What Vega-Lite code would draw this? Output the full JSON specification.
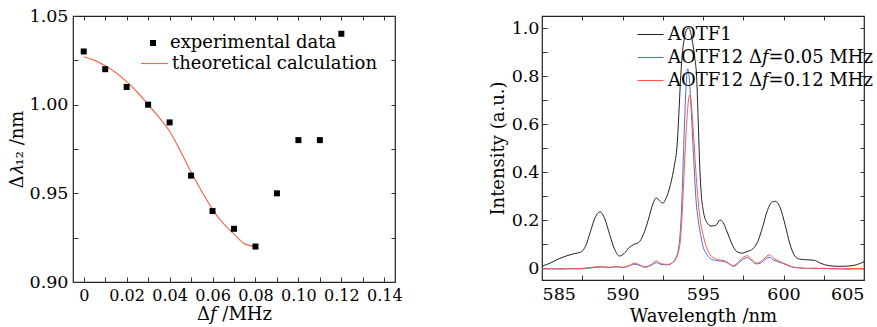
{
  "$schema": "https://vega.github.io/schema/vega-lite/v6.json",
  "autosize": {"type": "none"},
  "padding": {"left": 73, "top": 16, "right": 804, "bottom": 311},
  "bounds": "flush",
  "spacing": 147,
  "datasets": {
    "expt": [
      {"df": 0, "dl": 1.03}, {"df": 0.01, "dl": 1.02}, {"df": 0.02, "dl": 1.01}, {"df": 0.03, "dl": 1.0},
      {"df": 0.04, "dl": 0.99}, {"df": 0.05, "dl": 0.96}, {"df": 0.06, "dl": 0.94}, {"df": 0.07, "dl": 0.93},
      {"df": 0.08, "dl": 0.92}, {"df": 0.09, "dl": 0.95}, {"df": 0.1, "dl": 0.98}, {"df": 0.11, "dl": 0.98},
      {"df": 0.12, "dl": 1.04}
    ],
    "theory": [
      {"df": 0, "dl": 1.027}, {"df": 0.005, "dl": 1.025}, {"df": 0.01, "dl": 1.022}, {"df": 0.015, "dl": 1.018},
      {"df": 0.02, "dl": 1.013}, {"df": 0.025, "dl": 1.007}, {"df": 0.03, "dl": 1.0}, {"df": 0.035, "dl": 0.993},
      {"df": 0.04, "dl": 0.985}, {"df": 0.045, "dl": 0.974}, {"df": 0.05, "dl": 0.962}, {"df": 0.055, "dl": 0.951},
      {"df": 0.06, "dl": 0.941}, {"df": 0.065, "dl": 0.933}, {"df": 0.07, "dl": 0.927}, {"df": 0.075, "dl": 0.9215},
      {"df": 0.08, "dl": 0.92}
    ],
    "spectra": [
      {"s": "AOTF1", "wl": 585.0, "I": 0.008}, {"s": "AOTF1", "wl": 585.5, "I": 0.02}, {"s": "AOTF1", "wl": 586.0, "I": 0.037},
      {"s": "AOTF1", "wl": 586.5, "I": 0.05}, {"s": "AOTF1", "wl": 587.0, "I": 0.06}, {"s": "AOTF1", "wl": 587.4, "I": 0.066},
      {"s": "AOTF1", "wl": 587.7, "I": 0.09}, {"s": "AOTF1", "wl": 588.0, "I": 0.15}, {"s": "AOTF1", "wl": 588.3, "I": 0.21},
      {"s": "AOTF1", "wl": 588.6, "I": 0.234}, {"s": "AOTF1", "wl": 588.9, "I": 0.205}, {"s": "AOTF1", "wl": 589.2, "I": 0.14},
      {"s": "AOTF1", "wl": 589.5, "I": 0.08}, {"s": "AOTF1", "wl": 589.8, "I": 0.05}, {"s": "AOTF1", "wl": 590.1, "I": 0.06},
      {"s": "AOTF1", "wl": 590.4, "I": 0.085}, {"s": "AOTF1", "wl": 590.7, "I": 0.098}, {"s": "AOTF1", "wl": 591.0, "I": 0.106},
      {"s": "AOTF1", "wl": 591.3, "I": 0.14}, {"s": "AOTF1", "wl": 591.6, "I": 0.2}, {"s": "AOTF1", "wl": 591.9, "I": 0.27},
      {"s": "AOTF1", "wl": 592.1, "I": 0.292}, {"s": "AOTF1", "wl": 592.3, "I": 0.28}, {"s": "AOTF1", "wl": 592.5, "I": 0.27},
      {"s": "AOTF1", "wl": 592.7, "I": 0.29}, {"s": "AOTF1", "wl": 592.95, "I": 0.34}, {"s": "AOTF1", "wl": 593.2, "I": 0.42},
      {"s": "AOTF1", "wl": 593.4, "I": 0.52}, {"s": "AOTF1", "wl": 593.5, "I": 0.64}, {"s": "AOTF1", "wl": 593.6, "I": 0.78},
      {"s": "AOTF1", "wl": 593.7, "I": 0.88}, {"s": "AOTF1", "wl": 593.85, "I": 0.96}, {"s": "AOTF1", "wl": 594.0, "I": 0.995},
      {"s": "AOTF1", "wl": 594.1, "I": 1.0}, {"s": "AOTF1", "wl": 594.2, "I": 0.99}, {"s": "AOTF1", "wl": 594.35, "I": 0.94},
      {"s": "AOTF1", "wl": 594.5, "I": 0.87}, {"s": "AOTF1", "wl": 594.6, "I": 0.8}, {"s": "AOTF1", "wl": 594.7, "I": 0.62},
      {"s": "AOTF1", "wl": 594.8, "I": 0.42}, {"s": "AOTF1", "wl": 594.9, "I": 0.3}, {"s": "AOTF1", "wl": 595.0, "I": 0.245},
      {"s": "AOTF1", "wl": 595.2, "I": 0.195}, {"s": "AOTF1", "wl": 595.5, "I": 0.175}, {"s": "AOTF1", "wl": 595.8, "I": 0.178},
      {"s": "AOTF1", "wl": 596.05, "I": 0.2}, {"s": "AOTF1", "wl": 596.25, "I": 0.19}, {"s": "AOTF1", "wl": 596.5, "I": 0.15},
      {"s": "AOTF1", "wl": 596.8, "I": 0.1}, {"s": "AOTF1", "wl": 597.1, "I": 0.068}, {"s": "AOTF1", "wl": 597.4, "I": 0.062},
      {"s": "AOTF1", "wl": 597.8, "I": 0.07}, {"s": "AOTF1", "wl": 598.1, "I": 0.08}, {"s": "AOTF1", "wl": 598.4, "I": 0.11},
      {"s": "AOTF1", "wl": 598.7, "I": 0.17}, {"s": "AOTF1", "wl": 599.0, "I": 0.24}, {"s": "AOTF1", "wl": 599.3, "I": 0.275},
      {"s": "AOTF1", "wl": 599.5, "I": 0.278}, {"s": "AOTF1", "wl": 599.8, "I": 0.25}, {"s": "AOTF1", "wl": 600.1, "I": 0.18},
      {"s": "AOTF1", "wl": 600.4, "I": 0.1}, {"s": "AOTF1", "wl": 600.7, "I": 0.05}, {"s": "AOTF1", "wl": 601.0, "I": 0.037},
      {"s": "AOTF1", "wl": 601.5, "I": 0.034}, {"s": "AOTF1", "wl": 601.9, "I": 0.032}, {"s": "AOTF1", "wl": 602.3, "I": 0.02},
      {"s": "AOTF1", "wl": 602.8, "I": 0.01}, {"s": "AOTF1", "wl": 603.5, "I": 0.007}, {"s": "AOTF1", "wl": 604.2, "I": 0.009},
      {"s": "AOTF1", "wl": 604.6, "I": 0.015}, {"s": "AOTF1", "wl": 605.0, "I": 0.026},

      {"s": "AOTF12 Δ𝑓=0.05 MHz", "wl": 585.0, "I": -0.004}, {"s": "AOTF12 Δ𝑓=0.05 MHz", "wl": 585.6, "I": -0.003},
      {"s": "AOTF12 Δ𝑓=0.05 MHz", "wl": 586.2, "I": -0.005}, {"s": "AOTF12 Δ𝑓=0.05 MHz", "wl": 586.8, "I": -0.002},
      {"s": "AOTF12 Δ𝑓=0.05 MHz", "wl": 587.4, "I": -0.004}, {"s": "AOTF12 Δ𝑓=0.05 MHz", "wl": 588.0, "I": 0.0},
      {"s": "AOTF12 Δ𝑓=0.05 MHz", "wl": 588.6, "I": 0.004}, {"s": "AOTF12 Δ𝑓=0.05 MHz", "wl": 589.2, "I": 0.002},
      {"s": "AOTF12 Δ𝑓=0.05 MHz", "wl": 589.6, "I": 0.005}, {"s": "AOTF12 Δ𝑓=0.05 MHz", "wl": 590.0, "I": 0.002},
      {"s": "AOTF12 Δ𝑓=0.05 MHz", "wl": 590.4, "I": 0.008}, {"s": "AOTF12 Δ𝑓=0.05 MHz", "wl": 590.75, "I": 0.016},
      {"s": "AOTF12 Δ𝑓=0.05 MHz", "wl": 591.1, "I": 0.01}, {"s": "AOTF12 Δ𝑓=0.05 MHz", "wl": 591.4, "I": 0.003},
      {"s": "AOTF12 Δ𝑓=0.05 MHz", "wl": 591.8, "I": 0.012}, {"s": "AOTF12 Δ𝑓=0.05 MHz", "wl": 592.1, "I": 0.022},
      {"s": "AOTF12 Δ𝑓=0.05 MHz", "wl": 592.4, "I": 0.015}, {"s": "AOTF12 Δ𝑓=0.05 MHz", "wl": 592.8, "I": 0.013},
      {"s": "AOTF12 Δ𝑓=0.05 MHz", "wl": 593.1, "I": 0.022}, {"s": "AOTF12 Δ𝑓=0.05 MHz", "wl": 593.3, "I": 0.04},
      {"s": "AOTF12 Δ𝑓=0.05 MHz", "wl": 593.45, "I": 0.07}, {"s": "AOTF12 Δ𝑓=0.05 MHz", "wl": 593.55, "I": 0.12},
      {"s": "AOTF12 Δ𝑓=0.05 MHz", "wl": 593.65, "I": 0.22}, {"s": "AOTF12 Δ𝑓=0.05 MHz", "wl": 593.75, "I": 0.4},
      {"s": "AOTF12 Δ𝑓=0.05 MHz", "wl": 593.85, "I": 0.6}, {"s": "AOTF12 Δ𝑓=0.05 MHz", "wl": 593.95, "I": 0.76},
      {"s": "AOTF12 Δ𝑓=0.05 MHz", "wl": 594.05, "I": 0.83}, {"s": "AOTF12 Δ𝑓=0.05 MHz", "wl": 594.15, "I": 0.79},
      {"s": "AOTF12 Δ𝑓=0.05 MHz", "wl": 594.25, "I": 0.68}, {"s": "AOTF12 Δ𝑓=0.05 MHz", "wl": 594.35, "I": 0.55},
      {"s": "AOTF12 Δ𝑓=0.05 MHz", "wl": 594.45, "I": 0.42}, {"s": "AOTF12 Δ𝑓=0.05 MHz", "wl": 594.55, "I": 0.3},
      {"s": "AOTF12 Δ𝑓=0.05 MHz", "wl": 594.7, "I": 0.2}, {"s": "AOTF12 Δ𝑓=0.05 MHz", "wl": 594.85, "I": 0.14},
      {"s": "AOTF12 Δ𝑓=0.05 MHz", "wl": 595.0, "I": 0.09}, {"s": "AOTF12 Δ𝑓=0.05 MHz", "wl": 595.2, "I": 0.06},
      {"s": "AOTF12 Δ𝑓=0.05 MHz", "wl": 595.45, "I": 0.04}, {"s": "AOTF12 Δ𝑓=0.05 MHz", "wl": 595.8, "I": 0.031},
      {"s": "AOTF12 Δ𝑓=0.05 MHz", "wl": 596.1, "I": 0.029}, {"s": "AOTF12 Δ𝑓=0.05 MHz", "wl": 596.4, "I": 0.025},
      {"s": "AOTF12 Δ𝑓=0.05 MHz", "wl": 596.65, "I": 0.015}, {"s": "AOTF12 Δ𝑓=0.05 MHz", "wl": 596.9, "I": 0.007},
      {"s": "AOTF12 Δ𝑓=0.05 MHz", "wl": 597.2, "I": 0.02}, {"s": "AOTF12 Δ𝑓=0.05 MHz", "wl": 597.5, "I": 0.037},
      {"s": "AOTF12 Δ𝑓=0.05 MHz", "wl": 597.75, "I": 0.043}, {"s": "AOTF12 Δ𝑓=0.05 MHz", "wl": 598.0, "I": 0.032},
      {"s": "AOTF12 Δ𝑓=0.05 MHz", "wl": 598.3, "I": 0.017}, {"s": "AOTF12 Δ𝑓=0.05 MHz", "wl": 598.55, "I": 0.02},
      {"s": "AOTF12 Δ𝑓=0.05 MHz", "wl": 598.85, "I": 0.035}, {"s": "AOTF12 Δ𝑓=0.05 MHz", "wl": 599.1, "I": 0.045},
      {"s": "AOTF12 Δ𝑓=0.05 MHz", "wl": 599.4, "I": 0.032}, {"s": "AOTF12 Δ𝑓=0.05 MHz", "wl": 599.7, "I": 0.025},
      {"s": "AOTF12 Δ𝑓=0.05 MHz", "wl": 600.0, "I": 0.018}, {"s": "AOTF12 Δ𝑓=0.05 MHz", "wl": 600.3, "I": 0.01},
      {"s": "AOTF12 Δ𝑓=0.05 MHz", "wl": 600.6, "I": 0.003}, {"s": "AOTF12 Δ𝑓=0.05 MHz", "wl": 601.0, "I": 0.0},
      {"s": "AOTF12 Δ𝑓=0.05 MHz", "wl": 601.5, "I": -0.002}, {"s": "AOTF12 Δ𝑓=0.05 MHz", "wl": 602.0, "I": -0.003},
      {"s": "AOTF12 Δ𝑓=0.05 MHz", "wl": 602.5, "I": -0.001}, {"s": "AOTF12 Δ𝑓=0.05 MHz", "wl": 603.0, "I": -0.004},
      {"s": "AOTF12 Δ𝑓=0.05 MHz", "wl": 603.5, "I": -0.003}, {"s": "AOTF12 Δ𝑓=0.05 MHz", "wl": 604.0, "I": -0.005},
      {"s": "AOTF12 Δ𝑓=0.05 MHz", "wl": 604.5, "I": -0.003}, {"s": "AOTF12 Δ𝑓=0.05 MHz", "wl": 605.0, "I": -0.004},

      {"s": "AOTF12 Δ𝑓=0.12 MHz", "wl": 585.0, "I": -0.003}, {"s": "AOTF12 Δ𝑓=0.12 MHz", "wl": 585.6, "I": -0.004},
      {"s": "AOTF12 Δ𝑓=0.12 MHz", "wl": 586.2, "I": -0.002}, {"s": "AOTF12 Δ𝑓=0.12 MHz", "wl": 586.8, "I": -0.004},
      {"s": "AOTF12 Δ𝑓=0.12 MHz", "wl": 587.4, "I": -0.002}, {"s": "AOTF12 Δ𝑓=0.12 MHz", "wl": 588.0, "I": 0.002},
      {"s": "AOTF12 Δ𝑓=0.12 MHz", "wl": 588.6, "I": 0.006}, {"s": "AOTF12 Δ𝑓=0.12 MHz", "wl": 589.2, "I": 0.003},
      {"s": "AOTF12 Δ𝑓=0.12 MHz", "wl": 589.6, "I": 0.006}, {"s": "AOTF12 Δ𝑓=0.12 MHz", "wl": 590.0, "I": 0.003},
      {"s": "AOTF12 Δ𝑓=0.12 MHz", "wl": 590.4, "I": 0.01}, {"s": "AOTF12 Δ𝑓=0.12 MHz", "wl": 590.75, "I": 0.02},
      {"s": "AOTF12 Δ𝑓=0.12 MHz", "wl": 591.1, "I": 0.012}, {"s": "AOTF12 Δ𝑓=0.12 MHz", "wl": 591.4, "I": 0.005},
      {"s": "AOTF12 Δ𝑓=0.12 MHz", "wl": 591.8, "I": 0.015}, {"s": "AOTF12 Δ𝑓=0.12 MHz", "wl": 592.1, "I": 0.03},
      {"s": "AOTF12 Δ𝑓=0.12 MHz", "wl": 592.4, "I": 0.018}, {"s": "AOTF12 Δ𝑓=0.12 MHz", "wl": 592.8, "I": 0.015},
      {"s": "AOTF12 Δ𝑓=0.12 MHz", "wl": 593.1, "I": 0.022}, {"s": "AOTF12 Δ𝑓=0.12 MHz", "wl": 593.3, "I": 0.035},
      {"s": "AOTF12 Δ𝑓=0.12 MHz", "wl": 593.45, "I": 0.06}, {"s": "AOTF12 Δ𝑓=0.12 MHz", "wl": 593.6, "I": 0.12},
      {"s": "AOTF12 Δ𝑓=0.12 MHz", "wl": 593.7, "I": 0.22}, {"s": "AOTF12 Δ𝑓=0.12 MHz", "wl": 593.8, "I": 0.36},
      {"s": "AOTF12 Δ𝑓=0.12 MHz", "wl": 593.9, "I": 0.5}, {"s": "AOTF12 Δ𝑓=0.12 MHz", "wl": 594.0, "I": 0.62},
      {"s": "AOTF12 Δ𝑓=0.12 MHz", "wl": 594.1, "I": 0.7}, {"s": "AOTF12 Δ𝑓=0.12 MHz", "wl": 594.17, "I": 0.72},
      {"s": "AOTF12 Δ𝑓=0.12 MHz", "wl": 594.25, "I": 0.7}, {"s": "AOTF12 Δ𝑓=0.12 MHz", "wl": 594.35, "I": 0.62},
      {"s": "AOTF12 Δ𝑓=0.12 MHz", "wl": 594.45, "I": 0.52}, {"s": "AOTF12 Δ𝑓=0.12 MHz", "wl": 594.55, "I": 0.41},
      {"s": "AOTF12 Δ𝑓=0.12 MHz", "wl": 594.7, "I": 0.28}, {"s": "AOTF12 Δ𝑓=0.12 MHz", "wl": 594.85, "I": 0.19},
      {"s": "AOTF12 Δ𝑓=0.12 MHz", "wl": 595.0, "I": 0.14}, {"s": "AOTF12 Δ𝑓=0.12 MHz", "wl": 595.2, "I": 0.09},
      {"s": "AOTF12 Δ𝑓=0.12 MHz", "wl": 595.45, "I": 0.055}, {"s": "AOTF12 Δ𝑓=0.12 MHz", "wl": 595.8, "I": 0.038},
      {"s": "AOTF12 Δ𝑓=0.12 MHz", "wl": 596.1, "I": 0.033}, {"s": "AOTF12 Δ𝑓=0.12 MHz", "wl": 596.4, "I": 0.028},
      {"s": "AOTF12 Δ𝑓=0.12 MHz", "wl": 596.65, "I": 0.018}, {"s": "AOTF12 Δ𝑓=0.12 MHz", "wl": 596.9, "I": 0.01},
      {"s": "AOTF12 Δ𝑓=0.12 MHz", "wl": 597.2, "I": 0.025}, {"s": "AOTF12 Δ𝑓=0.12 MHz", "wl": 597.5, "I": 0.045},
      {"s": "AOTF12 Δ𝑓=0.12 MHz", "wl": 597.75, "I": 0.051}, {"s": "AOTF12 Δ𝑓=0.12 MHz", "wl": 598.0, "I": 0.038},
      {"s": "AOTF12 Δ𝑓=0.12 MHz", "wl": 598.3, "I": 0.02}, {"s": "AOTF12 Δ𝑓=0.12 MHz", "wl": 598.55, "I": 0.025},
      {"s": "AOTF12 Δ𝑓=0.12 MHz", "wl": 598.85, "I": 0.042}, {"s": "AOTF12 Δ𝑓=0.12 MHz", "wl": 599.1, "I": 0.055},
      {"s": "AOTF12 Δ𝑓=0.12 MHz", "wl": 599.4, "I": 0.04}, {"s": "AOTF12 Δ𝑓=0.12 MHz", "wl": 599.7, "I": 0.03},
      {"s": "AOTF12 Δ𝑓=0.12 MHz", "wl": 600.0, "I": 0.02}, {"s": "AOTF12 Δ𝑓=0.12 MHz", "wl": 600.3, "I": 0.012},
      {"s": "AOTF12 Δ𝑓=0.12 MHz", "wl": 600.6, "I": 0.004}, {"s": "AOTF12 Δ𝑓=0.12 MHz", "wl": 601.0, "I": 0.001},
      {"s": "AOTF12 Δ𝑓=0.12 MHz", "wl": 601.5, "I": -0.002}, {"s": "AOTF12 Δ𝑓=0.12 MHz", "wl": 602.0, "I": 0.0},
      {"s": "AOTF12 Δ𝑓=0.12 MHz", "wl": 602.5, "I": -0.003}, {"s": "AOTF12 Δ𝑓=0.12 MHz", "wl": 603.0, "I": -0.002},
      {"s": "AOTF12 Δ𝑓=0.12 MHz", "wl": 603.5, "I": -0.004}, {"s": "AOTF12 Δ𝑓=0.12 MHz", "wl": 604.0, "I": -0.002},
      {"s": "AOTF12 Δ𝑓=0.12 MHz", "wl": 604.5, "I": -0.003}, {"s": "AOTF12 Δ𝑓=0.12 MHz", "wl": 605.0, "I": -0.002}
    ]
  },
  "hconcat": [
    {
      "width": 322,
      "height": 266,
      "layer": [
        {
          "data": {"name": "theory"},
          "mark": {"type": "line", "strokeWidth": 1.2, "interpolate": "monotone"},
          "encoding": {
            "x": {
              "field": "df", "type": "quantitative",
              "scale": {"domain": [-0.005, 0.145], "nice": false, "zero": false},
              "axis": {
                "orient": "bottom", "title": "Δ𝑓 /MHz",
                "values": [0, 0.01, 0.02, 0.03, 0.04, 0.05, 0.06, 0.07, 0.08, 0.09, 0.1, 0.11, 0.12, 0.13, 0.14],
                "labelExpr": "round(datum.value*100) % 2 == 0 ? (datum.value == 0 ? '0' : format(datum.value, '.2f')) : ''",
                "labelFontSize": 16,
                "tickSize": -5, "labelPadding": 10, "titlePadding": 2
              }
            },
            "y": {
              "field": "dl", "type": "quantitative",
              "scale": {"domain": [0.9, 1.05], "nice": false, "zero": false},
              "axis": {
                "orient": "left", "title": "Δ𝜆₁₂ /nm",
                "values": [0.9, 0.925, 0.95, 0.975, 1.0, 1.025, 1.05],
                "labelExpr": "round(datum.value*1000) % 50 == 0 ? format(datum.value, '.2f') : ''",
                "tickSize": -5, "labelPadding": 10, "titlePadding": 3
              }
            },
            "color": {
              "datum": "theoretical calculation",
              "scale": {"domain": ["theoretical calculation"], "range": ["#f26b4f"]},
              "legend": {
                "orient": "none", "legendX": 67, "legendY": 33, "title": null,
                "symbolType": "stroke", "symbolSize": 729, "symbolStrokeWidth": 1.2,
                "labelOffset": 3, "labelLimit": 400
              }
            }
          }
        },
        {
          "data": {"name": "expt"},
          "mark": {"type": "point", "filled": true, "size": 36, "color": "black", "opacity": 1},
          "encoding": {
            "x": {"field": "df", "type": "quantitative", "axis": null},
            "y": {"field": "dl", "type": "quantitative", "axis": null},
            "shape": {
              "datum": "experimental data",
              "scale": {"domain": ["experimental data"], "range": ["square"]},
              "legend": {
                "orient": "none", "legendX": 71, "legendY": 18, "title": null,
                "symbolSize": 36, "symbolFillColor": "black", "symbolStrokeWidth": 0,
                "labelOffset": 8, "labelLimit": 400
              }
            }
          }
        },
        {
          "mark": {"type": "text", "align": "left", "baseline": "middle", "font": "DejaVu Serif", "fontSize": 18, "color": "black"},
          "encoding": {
            "x": {
              "datum": -0.003, "type": "quantitative",
              "axis": {
                "orient": "top", "title": null, "labels": false,
                "values": [0, 0.01, 0.02, 0.03, 0.04, 0.05, 0.06, 0.07, 0.08, 0.09, 0.1, 0.11, 0.12, 0.13, 0.14],
                "tickSize": -4
              }
            },
            "y": {
              "datum": 1.04, "type": "quantitative",
              "axis": {
                "orient": "right", "title": null, "labels": false,
                "values": [0.9, 0.925, 0.95, 0.975, 1.0, 1.025, 1.05],
                "tickSize": -4
              }
            },
            "text": {"value": "(a)"}
          }
        }
      ]
    },
    {
      "width": 322,
      "height": 264,
      "layer": [
        {
          "data": {"name": "spectra"},
          "mark": {"type": "line", "strokeWidth": 1, "interpolate": "monotone"},
          "encoding": {
            "x": {
              "field": "wl", "type": "quantitative",
              "scale": {"domain": [585, 605], "nice": false, "zero": false},
              "axis": {
                "orient": "bottom", "title": "Wavelength /nm",
                "values": [585, 587.5, 590, 592.5, 595, 597.5, 600, 602.5, 605],
                "labelExpr": "datum.value % 5 == 0 ? format(datum.value, 'd') : ''",
                "tickSize": -5, "labelPadding": 10, "titlePadding": 5
              }
            },
            "y": {
              "field": "I", "type": "quantitative",
              "scale": {"domain": [-0.05, 1.05], "nice": false, "zero": false},
              "axis": {
                "orient": "left", "title": "Intensity (a.u.)",
                "values": [0, 0.1, 0.2, 0.3, 0.4, 0.5, 0.6, 0.7, 0.8, 0.9, 1.0],
                "labelExpr": "round(datum.value*10) % 2 == 0 ? (datum.value == 0 ? '0' : format(datum.value, '.1f')) : ''",
                "tickSize": -5, "labelPadding": 8, "titlePadding": 4
              }
            },
            "color": {
              "field": "s", "type": "nominal",
              "scale": {
                "domain": ["AOTF1", "AOTF12 Δ𝑓=0.05 MHz", "AOTF12 Δ𝑓=0.12 MHz"],
                "range": ["#222222", "#4a6ee0", "#ff5a45"]
              },
              "legend": {
                "orient": "none", "legendX": 95, "legendY": 5, "title": null,
                "symbolType": "stroke", "symbolSize": 676, "symbolStrokeWidth": 1,
                "labelOffset": 4, "rowPadding": 0, "labelLimit": 400
              }
            }
          }
        },
        {
          "mark": {"type": "text", "align": "left", "baseline": "middle", "font": "DejaVu Serif", "fontSize": 18, "color": "black"},
          "encoding": {
            "x": {
              "datum": 585.6, "type": "quantitative",
              "axis": {
                "orient": "top", "title": null, "labels": false,
                "values": [585, 587.5, 590, 592.5, 595, 597.5, 600, 602.5, 605],
                "tickSize": -4
              }
            },
            "y": {
              "datum": 0.983, "type": "quantitative",
              "axis": {
                "orient": "right", "title": null, "labels": false,
                "values": [0, 0.1, 0.2, 0.3, 0.4, 0.5, 0.6, 0.7, 0.8, 0.9, 1.0],
                "tickSize": -4
              }
            },
            "text": {"value": "(b)"}
          }
        }
      ]
    }
  ],
  "resolve": {"scale": {"color": "independent"}, "legend": {"color": "independent"}},
  "config": {
    "view": {"stroke": "#222222", "strokeWidth": 1.2},
    "axis": {
      "domain": false, "grid": false,
      "tickColor": "#333333", "tickWidth": 1,
      "labelFont": "DejaVu Serif", "labelFontSize": 17.5, "labelColor": "black",
      "titleFont": "DejaVu Serif", "titleFontSize": 18, "titleFontWeight": "normal", "titleColor": "black"
    },
    "legend": {
      "labelFont": "DejaVu Serif", "labelFontSize": 18, "labelColor": "black", "padding": 0
    }
  }
}
